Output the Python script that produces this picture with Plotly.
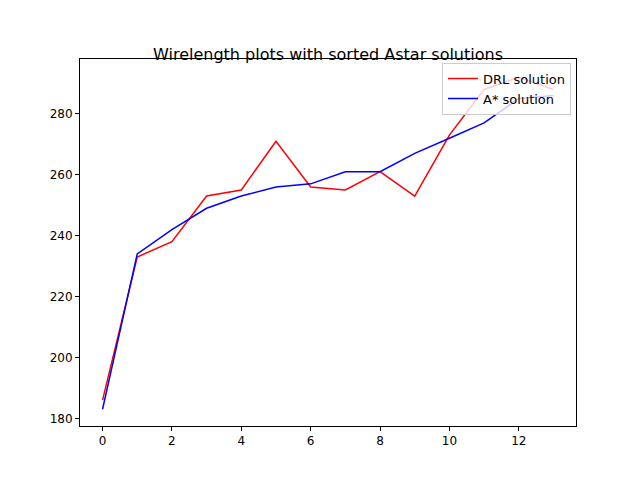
import plotly.graph_objects as go

x = list(range(14))
drl = [186, 233, 238, 253, 255, 271, 256, 255, 261, 253, 273, 288, 292, 288]
astar = [183, 234, 242, 249, 253, 256, 257, 261, 261, 267, 272, 277, 285, 286]

fig = go.Figure()
fig.add_trace(go.Scatter(x=x, y=drl, mode="lines", name="DRL solution",
                         line=dict(color="red", width=1.5)))
fig.add_trace(go.Scatter(x=x, y=astar, mode="lines", name="A* solution",
                         line=dict(color="blue", width=1.5)))

axis = dict(showgrid=False, zeroline=False, showline=True, mirror=True,
            linecolor="black", linewidth=1, ticks="outside", ticklen=4,
            tickcolor="black", automargin=False)
fig.update_layout(
    width=640, height=480,
    title=dict(text="Wirelength plots with sorted Astar solutions", x=0.5, y=0.915,
               xanchor="center", font=dict(size=16, color="black")),
    font=dict(family="DejaVu Sans", size=12, color="black"),
    plot_bgcolor="white", paper_bgcolor="white",
    margin=dict(l=72, r=72, t=51, b=62),
    showlegend=True,
    legend=dict(x=0.99, y=0.99, xanchor="right", yanchor="top",
                bgcolor="rgba(255,255,255,0.8)", bordercolor="#cccccc",
                borderwidth=1, font=dict(size=13)),
    xaxis=dict(axis, range=[-0.65, 13.65], tickvals=list(range(0, 14, 2))),
    yaxis=dict(axis, range=[177.5, 298], tickvals=list(range(180, 300, 20))),
)
fig.write_html("out.html")
